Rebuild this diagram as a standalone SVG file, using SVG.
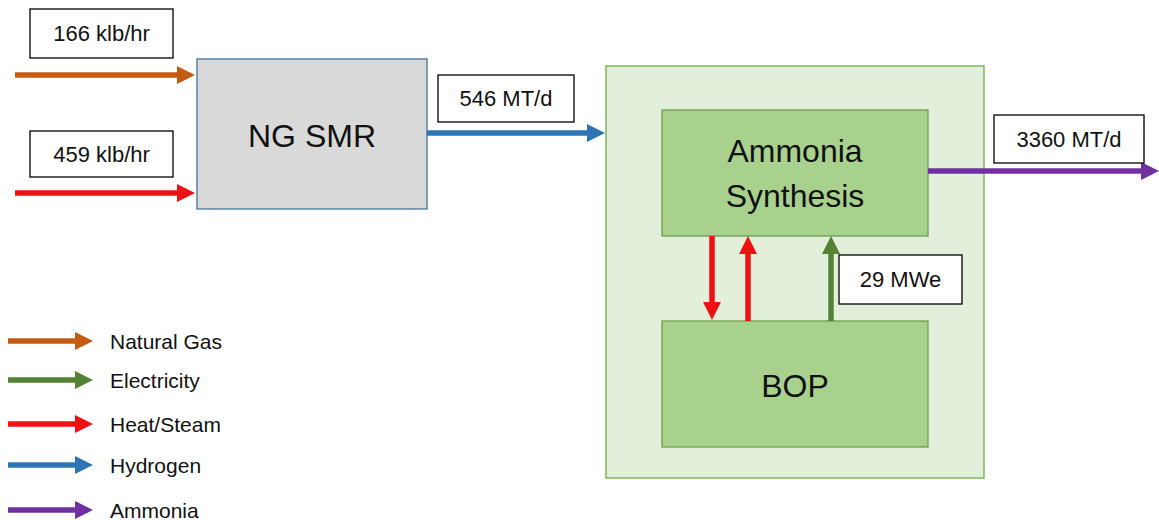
<svg xmlns="http://www.w3.org/2000/svg" width="1159" height="520" viewBox="0 0 1159 520">
<style>
.lbl{fill:#fff;stroke:#000;stroke-width:1.3}
.t{font-family:"Liberation Sans",Arial,sans-serif;fill:#111}
.s{font-size:21px}
.m{font-size:22px}
.b{font-size:32px;text-anchor:middle}
.c{text-anchor:middle}
.ln{stroke-width:5.5;fill:none}
</style>
<defs>
<marker id="mo" markerUnits="userSpaceOnUse" viewBox="0 0 18 18" markerWidth="18" markerHeight="18" refX="0" refY="9" orient="auto"><path d="M0,0L18,9L0,18z" fill="#c55a11"/></marker>
<marker id="mr" markerUnits="userSpaceOnUse" viewBox="0 0 18 18" markerWidth="18" markerHeight="18" refX="0" refY="9" orient="auto"><path d="M0,0L18,9L0,18z" fill="#ee1111"/></marker>
<marker id="mb" markerUnits="userSpaceOnUse" viewBox="0 0 18 18" markerWidth="18" markerHeight="18" refX="0" refY="9" orient="auto"><path d="M0,0L18,9L0,18z" fill="#2e75b6"/></marker>
<marker id="mg" markerUnits="userSpaceOnUse" viewBox="0 0 18 18" markerWidth="18" markerHeight="18" refX="0" refY="9" orient="auto"><path d="M0,0L18,9L0,18z" fill="#548235"/></marker>
<marker id="mp" markerUnits="userSpaceOnUse" viewBox="0 0 18 18" markerWidth="18" markerHeight="18" refX="0" refY="9" orient="auto"><path d="M0,0L18,9L0,18z" fill="#7030a0"/></marker>
</defs>

<g id="plant-boundary">
<rect x="606" y="66" width="378" height="412" fill="#e2efda" stroke="#70ad47" stroke-width="1.3"/>
</g>
<g id="ng-smr">
<rect x="197" y="59" width="230" height="150" fill="#d9d9d9" stroke="#41719c" stroke-width="1.3"/>
<text class="t b" x="312" y="147">NG SMR</text>
</g>
<g id="ammonia-synthesis">
<rect x="662" y="110" width="266" height="126" fill="#a9d18e" stroke="#6a9f4c" stroke-width="1.3"/>
<text class="t b" x="795" y="162">Ammonia</text>
<text class="t b" x="795" y="207">Synthesis</text>
</g>
<g id="bop">
<rect x="662" y="321" width="266" height="126" fill="#a9d18e" stroke="#6a9f4c" stroke-width="1.3"/>
<text class="t b" x="795" y="397">BOP</text>
</g>

<g id="connectors">
<line class="ln" x1="15" y1="75" x2="177" y2="75" stroke="#c55a11" marker-end="url(#mo)"/>
<line class="ln" x1="15" y1="193" x2="177" y2="193" stroke="#ee1111" marker-end="url(#mr)"/>
<line class="ln" x1="427" y1="133" x2="587" y2="133" stroke="#2e75b6" marker-end="url(#mb)"/>
<line class="ln" x1="928" y1="171" x2="1141" y2="171" stroke="#7030a0" marker-end="url(#mp)"/>
<line class="ln" x1="712" y1="236" x2="712" y2="302" stroke="#ee1111" marker-end="url(#mr)"/>
<line class="ln" x1="748" y1="321" x2="748" y2="254" stroke="#ee1111" marker-end="url(#mr)"/>
<line class="ln" x1="831" y1="321" x2="831" y2="254" stroke="#548235" marker-end="url(#mg)"/>
</g>

<g id="flow-labels">
<rect class="lbl" x="30" y="9" width="143" height="49"/>
<text class="t m c" x="101.5" y="41">166 klb/hr</text>
<rect class="lbl" x="30" y="131" width="143" height="46"/>
<text class="t m c" x="101.5" y="162">459 klb/hr</text>
<rect class="lbl" x="438" y="75" width="136" height="47"/>
<text class="t m c" x="506" y="106">546 MT/d</text>
<rect class="lbl" x="994" y="115" width="150" height="48"/>
<text class="t m c" x="1069" y="147">3360 MT/d</text>
<rect class="lbl" x="839" y="255" width="123" height="49"/>
<text class="t m c" x="900.5" y="287">29 MWe</text>
</g>

<g id="legend">
<line class="ln" x1="8" y1="341" x2="75" y2="341" stroke="#c55a11" marker-end="url(#mo)"/>
<line class="ln" x1="8" y1="380" x2="75" y2="380" stroke="#548235" marker-end="url(#mg)"/>
<line class="ln" x1="8" y1="424" x2="75" y2="424" stroke="#ee1111" marker-end="url(#mr)"/>
<line class="ln" x1="8" y1="465" x2="75" y2="465" stroke="#2e75b6" marker-end="url(#mb)"/>
<line class="ln" x1="8" y1="510" x2="75" y2="510" stroke="#7030a0" marker-end="url(#mp)"/>
<text class="t s" x="110" y="349">Natural Gas</text>
<text class="t s" x="110" y="388">Electricity</text>
<text class="t s" x="110" y="432">Heat/Steam</text>
<text class="t s" x="110" y="473">Hydrogen</text>
<text class="t s" x="110" y="518">Ammonia</text>
</g>
</svg>
